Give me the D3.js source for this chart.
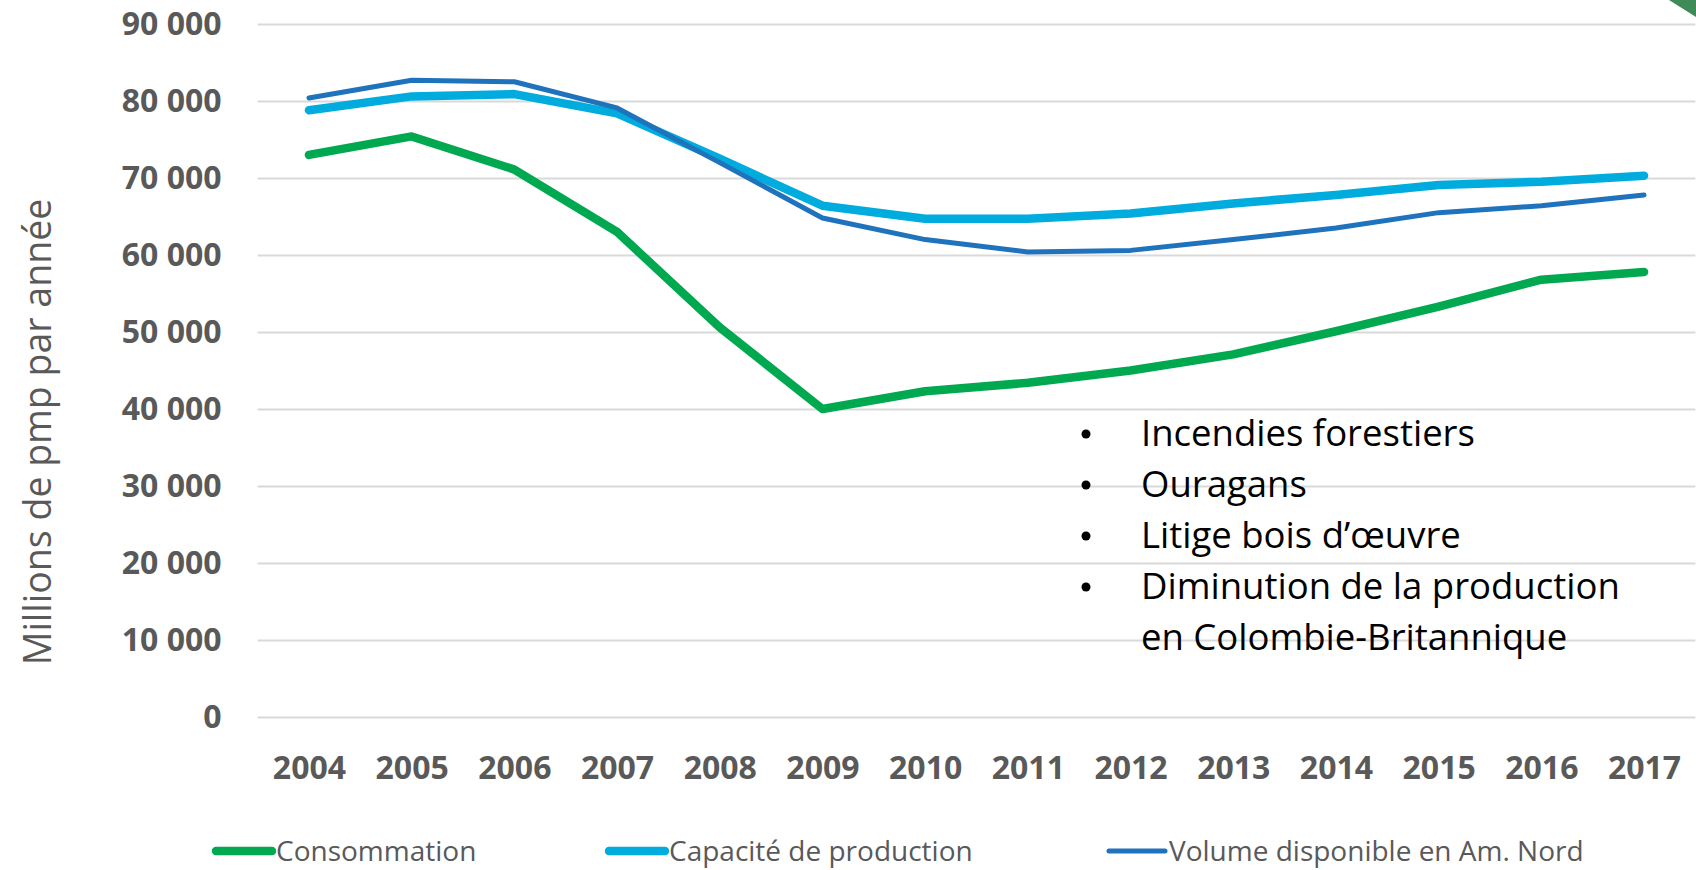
<!DOCTYPE html>
<html>
<head>
<meta charset="utf-8">
<script src="https://cdn.jsdelivr.net/npm/d3@7"></script>
<style>
  body { margin: 0; background: #fff; }
  svg { display: block; font-family: "Open Sans", sans-serif; }
</style>
</head>
<body>
<div id="chart"></div>
<script>
// data (millions de pmp)
var years = ["2004","2005","2006","2007","2008","2009","2010","2011","2012","2013","2014","2015","2016","2017"];
var consommation = [73000, 75400, 71100, 63000, 50600, 40000, 42300, 43400, 45000, 47100, 50100, 53300, 56800, 57800];
var capacite     = [78800, 80600, 80900, 78400, 72500, 66400, 64700, 64700, 65400, 66700, 67800, 69100, 69500, 70300];
var volume       = [80400, 82700, 82500, 79100, 72000, 64800, 62000, 60400, 60600, 62000, 63500, 65500, 66400, 67800];
var yTicks = [0, 10000, 20000, 30000, 40000, 50000, 60000, 70000, 80000, 90000];
var seriesNames = ["Consommation", "Capacité de production", "Volume disponible en Am. Nord"];
var notes = ["Incendies forestiers", "Ouragans", "Litige bois d\u2019\u0153uvre", "Diminution de la production", "en Colombie-Britannique"];

var W = 1696, H = 870;
var margin = {top: 24, right: 0.6, bottom: 153, left: 257.6},
    width = W - margin.left - margin.right,
    height = H - margin.top - margin.bottom;

var series = [
  {name: seriesNames[0], values: consommation, color: "#00A84F", w: 8.5},
  {name: seriesNames[1], values: capacite, color: "#00ACDD", w: 8.5},
  {name: seriesNames[2], values: volume, color: "#1F72BC", w: 5}
];

var svg = d3.select("#chart")
  .append("svg")
    .attr("width", W)
    .attr("height", H);

// little green corner of the slide
svg.append("polygon")
  .attr("points", "1669,0 1696,0 1696,17")
  .attr("fill", "#3F8B58");

var g = svg.append("g")
  .attr("transform", "translate(" + margin.left + "," + margin.top + ")");

var x = d3.scalePoint()
  .domain(years)
  .range([0, width])
  .padding(0.5);

var y = d3.scaleLinear()
  .domain([0, 90000])
  .range([height, 0]);

var fmt = function(d) { return d3.format(",")(d).replace(/,/g, " "); };

// Y axis + gridlines
var yAxis = g.append("g")
  .call(d3.axisLeft(y).tickValues(yTicks).tickFormat(fmt).tickSize(-width).tickPadding(36));
yAxis.select(".domain").remove();
yAxis.selectAll("line")
  .attr("stroke", "#D9D9D9")
  .attr("stroke-width", 2);
yAxis.selectAll("text")
  .attr("fill", "#595959")
  .style("font-family", "'Open Sans', sans-serif")
  .style("font-weight", 700)
  .style("font-size", "32px");

// X axis
var xAxis = g.append("g")
  .attr("transform", "translate(0," + height + ")")
  .call(d3.axisBottom(x).tickSize(0).tickPadding(39));
xAxis.select(".domain").remove();
xAxis.selectAll("text")
  .attr("fill", "#595959")
  .style("font-family", "'Open Sans', sans-serif")
  .style("font-weight", 700)
  .style("font-size", "32px");

// Y title
svg.append("text")
  .attr("transform", "translate(51," + 432 + ") rotate(-90)")
  .attr("text-anchor", "middle")
  .attr("fill", "#595959")
  .style("font-size", "37.5px")
  .text("Millions de pmp par année");

// lines
var line = d3.line()
  .x(function(d, i) { return x(years[i]); })
  .y(function(d) { return y(d); });

g.selectAll(".serie")
  .data(series)
  .enter()
  .append("path")
    .attr("class", "serie")
    .attr("fill", "none")
    .attr("stroke", function(d) { return d.color; })
    .attr("stroke-width", function(d) { return d.w; })
    .attr("stroke-linecap", "round")
    .attr("stroke-linejoin", "round")
    .attr("d", function(d) { return line(d.values); });

// annotation list
var notesG = svg.append("g");
notes.forEach(function(t, i) {
  var yy = 446 + i * 51;
  if (i < 4) {
    notesG.append("circle")
      .attr("cx", 1086).attr("cy", yy - 12)
      .attr("r", 4.5)
      .attr("fill", "#000");
  }
  notesG.append("text")
    .attr("x", 1141).attr("y", yy)
    .attr("fill", "#000")
    .style("font-size", "36.5px")
    .text(t);
});

// legend
var legendX = [216, 609, 1109];
var leg = svg.append("g")
  .attr("transform", "translate(0,851)");
var item = leg.selectAll(".leg")
  .data(series)
  .enter()
  .append("g")
    .attr("class", "leg")
    .attr("transform", function(d, i) { return "translate(" + legendX[i] + ",0)"; });
item.append("line")
  .attr("x1", 0).attr("x2", 56)
  .attr("y1", 0).attr("y2", 0)
  .attr("stroke", function(d) { return d.color; })
  .attr("stroke-width", function(d) { return d.w; })
  .attr("stroke-linecap", "round");
item.append("text")
  .attr("x", 60)
  .attr("dy", "0.35em")
  .attr("fill", "#595959")
  .style("font-size", "28px")
  .text(function(d) { return d.name; });
</script>
</body>
</html>
